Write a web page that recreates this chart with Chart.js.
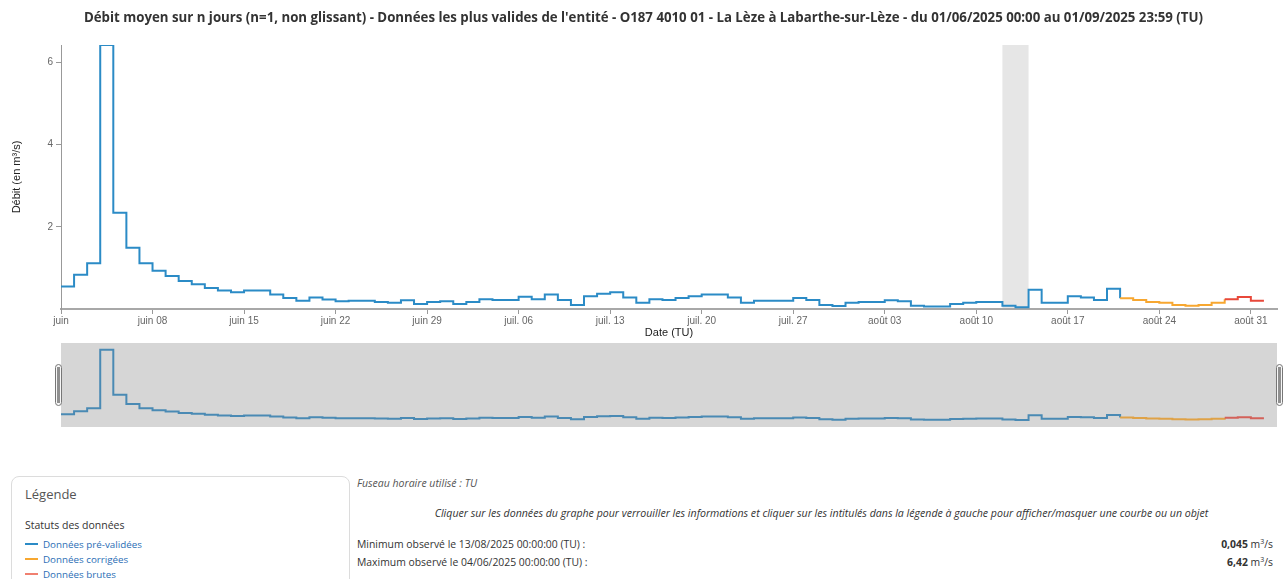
<!DOCTYPE html>
<html>
<head>
<meta charset="utf-8">
<script src="https://cdn.jsdelivr.net/npm/chart.js@4.4.1/dist/chart.umd.min.js"></script>
<style>
  html, body { margin:0; padding:0; background:#fff; }
  #page { position:relative; width:1286px; height:579px; overflow:hidden; font-family:"Open Sans", "Noto Sans", sans-serif; }
  #mainCanvas { position:absolute; left:0; top:0; }
  #navCanvas { position:absolute; left:0; top:340px; }
  .abs { position:absolute; white-space:nowrap; }
  #legendBox { position:absolute; left:11px; top:476px; width:337px; height:140px; border:1px solid #dcdcdc; border-radius:8px; }
  .item { position:absolute; left:13px; font-size:9.8px; line-height:14px; color:#2a6db5; }
  .item span.ln { display:inline-block; width:13px; height:2px; vertical-align:middle; margin-right:5px; position:relative; top:-1px; }
  sup { font-size:7px; line-height:0; }
</style>
</head>
<body>
<div id="page">
  <canvas id="mainCanvas" width="1286" height="340"></canvas>
  <canvas id="navCanvas" width="1286" height="100"></canvas>

  <div id="legendBox">
    <div class="abs" style="left:13px; top:9px; font-size:13px; line-height:16px; color:#555;">Légende</div>
    <div class="abs" style="left:13px; top:41px; font-size:10.5px; line-height:14px; color:#333;">Statuts des données</div>
    <div class="item" style="top:61px;"><span class="ln" style="background:#2b8bc6"></span>Données pré-validées</div>
    <div class="item" style="top:76px;"><span class="ln" style="background:#f7a730"></span>Données corrigées</div>
    <div class="item" style="top:91px;"><span class="ln" style="background:#f08070"></span>Données brutes</div>
  </div>

  <div class="abs" style="left:357px; top:476px; font-size:10.5px; line-height:14px; font-style:italic; color:#555;">Fuseau horaire utilisé : TU</div>
  <div class="abs" style="left:357px; width:929px; top:506px; text-align:center; font-size:10.6px; line-height:14px; font-style:italic; color:#333;">Cliquer sur les données du graphe pour verrouiller les informations et cliquer sur les intitulés dans la légende à gauche pour afficher/masquer une courbe ou un objet</div>
  <div class="abs" style="left:357px; top:537px; font-size:10.4px; line-height:14px; color:#333;">Minimum observé le 13/08/2025 00:00:00 (TU) :</div>
  <div class="abs" style="right:13px; top:537px; font-size:10.4px; line-height:14px; color:#333;"><b>0,045</b> m<sup>3</sup>/s</div>
  <div class="abs" style="left:357px; top:555px; font-size:10.4px; line-height:14px; color:#333;">Maximum observé le 04/06/2025 00:00:00 (TU) :</div>
  <div class="abs" style="right:13px; top:555px; font-size:10.4px; line-height:14px; color:#333;"><b>6,42</b> m<sup>3</sup>/s</div>
</div>

<script>
// ---- data ----
const startDate = '2025-06-01';
const endDate = '2025-09-02';
const dates = [
  '2025-06-01','2025-06-02','2025-06-03','2025-06-04','2025-06-05','2025-06-06','2025-06-07','2025-06-08','2025-06-09','2025-06-10',
  '2025-06-11','2025-06-12','2025-06-13','2025-06-14','2025-06-15','2025-06-16','2025-06-17','2025-06-18','2025-06-19','2025-06-20',
  '2025-06-21','2025-06-22','2025-06-23','2025-06-24','2025-06-25','2025-06-26','2025-06-27','2025-06-28','2025-06-29','2025-06-30',
  '2025-07-01','2025-07-02','2025-07-03','2025-07-04','2025-07-05','2025-07-06','2025-07-07','2025-07-08','2025-07-09','2025-07-10',
  '2025-07-11','2025-07-12','2025-07-13','2025-07-14','2025-07-15','2025-07-16','2025-07-17','2025-07-18','2025-07-19','2025-07-20',
  '2025-07-21','2025-07-22','2025-07-23','2025-07-24','2025-07-25','2025-07-26','2025-07-27','2025-07-28','2025-07-29','2025-07-30',
  '2025-07-31','2025-08-01','2025-08-02','2025-08-03','2025-08-04','2025-08-05','2025-08-06','2025-08-07','2025-08-08','2025-08-09',
  '2025-08-10','2025-08-11','2025-08-12','2025-08-13','2025-08-14','2025-08-15','2025-08-16','2025-08-17','2025-08-18','2025-08-19',
  '2025-08-20','2025-08-21','2025-08-22','2025-08-23','2025-08-24','2025-08-25','2025-08-26','2025-08-27','2025-08-28','2025-08-29',
  '2025-08-30','2025-08-31','2025-09-01'
];
const flow = [
  0.55, 0.83, 1.11, 6.42, 2.34, 1.49, 1.11, 0.93, 0.80, 0.68,
  0.60, 0.51, 0.45, 0.41, 0.45, 0.45, 0.35, 0.27, 0.20, 0.28,
  0.23, 0.19, 0.20, 0.20, 0.17, 0.15, 0.21, 0.12, 0.17, 0.19,
  0.12, 0.17, 0.24, 0.22, 0.22, 0.30, 0.24, 0.35, 0.22, 0.10,
  0.31, 0.37, 0.41, 0.28, 0.15, 0.24, 0.22, 0.27, 0.31, 0.35,
  0.35, 0.28, 0.15, 0.20, 0.20, 0.20, 0.27, 0.22, 0.10, 0.07,
  0.15, 0.17, 0.17, 0.21, 0.19, 0.08, 0.06, 0.06, 0.12, 0.15,
  0.17, 0.17, 0.08, 0.045, 0.47, 0.15, 0.15, 0.31, 0.28, 0.22,
  0.49, 0.26, 0.22, 0.17, 0.15, 0.10, 0.08, 0.10, 0.15, 0.24,
  0.29, 0.20, 0.20
];
// pv = pré-validées, c = corrigées, b = brutes
const status = [
  'pv','pv','pv','pv','pv','pv','pv','pv','pv','pv',
  'pv','pv','pv','pv','pv','pv','pv','pv','pv','pv',
  'pv','pv','pv','pv','pv','pv','pv','pv','pv','pv',
  'pv','pv','pv','pv','pv','pv','pv','pv','pv','pv',
  'pv','pv','pv','pv','pv','pv','pv','pv','pv','pv',
  'pv','pv','pv','pv','pv','pv','pv','pv','pv','pv',
  'pv','pv','pv','pv','pv','pv','pv','pv','pv','pv',
  'pv','pv','pv','pv','pv','pv','pv','pv','pv','pv',
  'pv','c','c','c','c','c','c','c','c','b',
  'b','b','b'
];
const xTickDates = ['2025-06-01','2025-06-08','2025-06-15','2025-06-22','2025-06-29','2025-07-06','2025-07-13',
                    '2025-07-20','2025-07-27','2025-08-03','2025-08-10','2025-08-17','2025-08-24','2025-08-31'];
const xTickLabels = ['juin','juin 08','juin 15','juin 22','juin 29','juil. 06','juil. 13',
                     'juil. 20','juil. 27','août 03','août 10','août 17','août 24','août 31'];
const yTicks = [2, 4, 6];
const yMax = 6.42;
const bandStart = '2025-08-12';
const bandEnd = '2025-08-14';

const titleText = "Débit moyen sur n jours (n=1, non glissant) - Données les plus valides de l'entité - O187 4010 01 - La Lèze à Labarthe-sur-Lèze - du 01/06/2025 00:00 au 01/09/2025 23:59 (TU)";

// ---- helpers ----
const DAY = 86400000;
const t0 = Date.parse(startDate + 'T00:00:00Z');
const dayOf = d => (Date.parse(d + 'T00:00:00Z') - t0) / DAY;
const xMax = dayOf(endDate);
const xTickDays = xTickDates.map(dayOf);
const points = dates.map((d, i) => ({ x: dayOf(d), y: flow[i] }));

const mainColors = { pv: '#2b8bc6', c: '#f7a730', b: '#e8483a' };
const navColors = { pv: '#4a8ab4', c: '#dfa247', b: '#d3625a' };

const bandPlugin = {
  id: 'band',
  beforeDraw(chart) {
    const { ctx, chartArea: a, scales: { x } } = chart;
    const x0 = x.getPixelForValue(dayOf(bandStart));
    const x1 = x.getPixelForValue(dayOf(bandEnd));
    ctx.save();
    ctx.fillStyle = '#e6e6e6';
    ctx.fillRect(x0, a.top, x1 - x0, a.bottom - a.top);
    ctx.restore();
  }
};

new Chart(document.getElementById('mainCanvas'), {
  type: 'line',
  data: {
    datasets: [{
      data: points,
      stepped: true,
      borderWidth: 2,
      pointRadius: 0,
      fill: false,
      borderColor: mainColors.pv,
      segment: { borderColor: c => mainColors[status[c.p0DataIndex]] }
    }]
  },
  options: {
    responsive: false,
    animation: false,
    events: [],
    layout: { padding: { left: 10, right: 9, top: 0, bottom: 0 } },
    plugins: {
      legend: { display: false },
      tooltip: { enabled: false },
      title: {
        display: true, text: titleText, color: '#333',
        font: { family: 'Open Sans', size: 13.25, weight: 'bold', lineHeight: 1.2 },
        padding: { top: 10.1, bottom: 19.0 }
      }
    },
    scales: {
      x: {
        type: 'linear', min: 0, max: xMax,
        afterBuildTicks: s => { s.ticks = xTickDays.map(v => ({ value: v })); },
        afterFit: s => { s.height = 31; },
        ticks: {
          autoSkip: false, maxRotation: 0, padding: 1,
          color: '#666', font: { family: 'Liberation Sans', size: 10 },
          callback: v => xTickLabels[xTickDays.indexOf(v)]
        },
        grid: { drawOnChartArea: false, drawTicks: true, tickLength: 5, color: '#999' },
        border: { color: '#a8a8a8', width: 2 },
        title: {
          display: true, text: 'Date (TU)', color: '#222',
          font: { family: 'Liberation Sans', size: 11 }, padding: { top: 0, bottom: 0 }
        }
      },
      y: {
        min: 0, max: yMax,
        afterBuildTicks: s => { s.ticks = yTicks.map(v => ({ value: v })); },
        afterFit: s => { s.width = 51; },
        ticks: { padding: 3, color: '#666', font: { family: 'Liberation Sans', size: 10 } },
        grid: { drawOnChartArea: false, drawTicks: true, tickLength: 5, color: '#999' },
        border: { color: '#999', width: 1 },
        title: {
          display: true, text: 'Débit (en m³/s)', color: '#222',
          font: { family: 'Liberation Sans', size: 11 }, padding: { top: 0.4, bottom: 0 }
        }
      }
    }
  },
  plugins: [bandPlugin]
});

const navBg = {
  id: 'navBg',
  beforeDraw(chart) {
    const { ctx, chartArea: a } = chart;
    ctx.save();
    ctx.fillStyle = '#d6d6d6';
    ctx.fillRect(a.left, a.top, a.right - a.left, a.bottom - a.top);
    ctx.restore();
  }
};
const navHandles = {
  id: 'navHandles',
  afterDraw(chart) {
    const { ctx, chartArea: a } = chart;
    const cy = (a.top + a.bottom) / 2;
    const h = 42, w = 7;
    [a.left - w + 1, a.right - 1].forEach(x => {
      ctx.save();
      ctx.beginPath();
      ctx.roundRect(x + 0.5, cy - h / 2 + 0.5, w - 1, h - 1, 3);
      ctx.fillStyle = '#f7f7f7';
      ctx.fill();
      ctx.strokeStyle = '#777';
      ctx.lineWidth = 1;
      ctx.stroke();
      ctx.fillStyle = '#909090';
      ctx.fillRect(x + 2, cy - h / 2 + 3, w - 4, h - 6);
      ctx.restore();
    });
  }
};

new Chart(document.getElementById('navCanvas'), {
  type: 'line',
  data: {
    datasets: [{
      data: points,
      stepped: true,
      borderWidth: 2,
      pointRadius: 0,
      fill: false,
      borderColor: navColors.pv,
      segment: { borderColor: c => navColors[status[c.p0DataIndex]] }
    }]
  },
  options: {
    responsive: false,
    animation: false,
    events: [],
    layout: { padding: { left: 61, right: 9, top: 3, bottom: 13 } },
    plugins: { legend: { display: false }, tooltip: { enabled: false }, title: { display: false } },
    scales: {
      x: { type: 'linear', display: false, min: 0, max: xMax },
      y: { display: false, min: -0.6, max: 7.04 }
    }
  },
  plugins: [navBg, navHandles]
});
</script>
</body>
</html>
